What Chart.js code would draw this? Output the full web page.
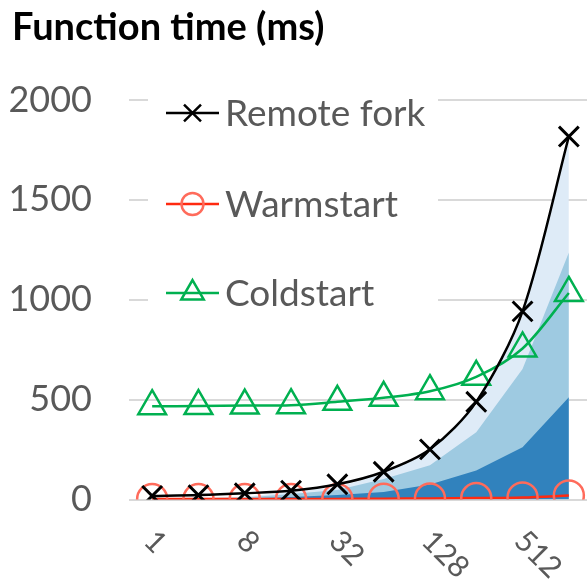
<!DOCTYPE html>
<html lang="en">

<head>
  <meta charset="UTF-8" />
  <title>Function time (ms)</title>
  <script src="https://cdn.jsdelivr.net/npm/chart.js"></script>
  <style>
    html, body { margin: 0; padding: 0; background: #fff; overflow: hidden; }
    #wrap { position: absolute; left: 0; top: 0; width: 592px; height: 583px; }
  </style>
</head>

<body>
  <div id="wrap">
    <canvas id="fnChart" width="592" height="583"></canvas>
  </div>

  <script>
    // x categories (only every other label is printed)
    const categories = ['1', '4', '8', '16', '32', '64', '128', '256', '512', '1024'];
    const yTicks = [0, 500, 1000, 1500, 2000];

    // line series (ms)
    const remoteFork = [18, 22, 31, 44, 76, 139, 251, 489, 942, 1817];
    const warmstart = [3, 3, 3, 3, 3, 4, 5, 7, 10, 20];
    const coldstart = [467, 468, 470, 472, 489, 509, 542, 614, 756, 1034];

    // background areas (top edge of each band)
    const areaDark = [2, 3, 5, 12, 22, 38, 75, 145, 262, 512];
    const areaMid = [4, 6, 10, 27, 48, 103, 172, 337, 653, 1237];
    const areaLight = [6, 9, 14, 37, 62, 128, 237, 470, 920, 1800];

    const textGrey = '#595959';
    const legendItems = [
      { text: 'Remote fork', line: '#000000', point: '#000000', style: 'crossRot', r: 12 },
      { text: 'Warmstart', line: '#ff2a10', point: '#ff6b5b', style: 'circle', r: 11 },
      { text: 'Coldstart', line: '#00b050', point: '#00b050', style: 'triangle', r: 13 }
    ];

    // title, legend box and rotated x labels
    const decor = {
      id: 'decor',
      beforeDatasetsDraw(chart) {
        const ctx = chart.ctx;
        ctx.save();
        ctx.fillStyle = '#ffffff';
        ctx.fillRect(148, 82, 290, 240);
        ctx.restore();
      },
      afterDraw(chart) {
        const ctx = chart.ctx;
        ctx.save();
        ctx.fillStyle = '#000';
        ctx.font = 'bold 38px Lato';
        ctx.textBaseline = 'alphabetic';
        ctx.textAlign = 'left';
        ctx.fillText('Function time (ms)', 12, 40);

        // legend
        const rows = [113, 204, 293];
        legendItems.forEach((it, i) => {
          const y = rows[i];
          ctx.strokeStyle = it.line;
          ctx.lineWidth = 2.5;
          ctx.beginPath();
          ctx.moveTo(166, y);
          ctx.lineTo(219, y);
          ctx.stroke();
          ctx.strokeStyle = it.point;
          ctx.fillStyle = 'rgba(0,0,0,0)';
          Chart.helpers.drawPoint(ctx, { pointStyle: it.style, radius: it.r, borderWidth: 2.5, rotation: 0 }, 192.5, y);
          ctx.fillStyle = textGrey;
          ctx.font = '37px Lato';
          ctx.textBaseline = 'middle';
          ctx.fillText(it.text, 225, y + 1);
        });

        // x tick labels, rotated clockwise
        const xs = chart.scales.x;
        ctx.font = '30px Lato';
        ctx.fillStyle = textGrey;
        ctx.textAlign = 'left';
        ctx.textBaseline = 'middle';
        categories.forEach((c, i) => {
          if (i % 2) return;
          const px = xs.getPixelForValue(i);
          ctx.save();
          ctx.translate(px - 3, 536);
          ctx.rotate(Math.PI / 4);
          ctx.fillText(c, 0, 0);
          ctx.restore();
        });
        ctx.restore();
      }
    };

    const areaSet = (data, color, order) => ({
      data: data,
      backgroundColor: color,
      borderWidth: 0,
      pointRadius: 0,
      fill: 'origin',
      tension: 0,
      order: order
    });

    new Chart(document.getElementById('fnChart'), {
      type: 'line',
      data: {
        labels: categories,
        datasets: [
          {
            label: 'Remote fork',
            data: remoteFork,
            borderColor: '#000000',
            borderWidth: 2.5,
            pointStyle: 'crossRot',
            pointRadius: 14,
            pointBorderWidth: 3,
            pointBorderColor: '#000000',
            tension: 0.3,
            fill: false,
            order: 0
          },
          {
            label: 'Warmstart',
            data: warmstart,
            borderColor: '#ff2a10',
            borderWidth: 2.5,
            pointStyle: 'circle',
            pointRadius: 15,
            pointBorderWidth: 2.5,
            pointBorderColor: '#ff6b5b',
            pointBackgroundColor: 'rgba(0,0,0,0)',
            tension: 0.3,
            fill: false,
            order: 0
          },
          {
            label: 'Coldstart',
            data: coldstart,
            borderColor: '#00b050',
            borderWidth: 2.5,
            pointStyle: 'triangle',
            pointRadius: 16,
            pointBorderWidth: 2.5,
            pointBorderColor: '#00b050',
            pointBackgroundColor: 'rgba(0,0,0,0)',
            tension: 0.3,
            fill: false,
            order: 0
          },
          areaSet(areaDark, '#3182bd', 1),
          areaSet(areaMid, '#9ecae1', 2),
          areaSet(areaLight, '#deebf7', 3)
        ]
      },
      options: {
        responsive: false,
        animation: false,
        layout: {
          autoPadding: false,
          padding: { left: 0, top: 100, right: 0, bottom: 83.5 }
        },
        plugins: {
          legend: { display: false },
          title: { display: false },
          tooltip: { enabled: false }
        },
        scales: {
          x: {
            offset: true,
            border: { display: false },
            grid: { display: false, drawTicks: false },
            ticks: { display: false }
          },
          y: {
            min: 0,
            max: 2000,
            afterFit: s => { s.width = 129; },
            afterBuildTicks: s => { s.ticks = yTicks.map(v => ({ value: v })); },
            border: { display: false },
            grid: { color: '#d9d9d9', lineWidth: 2, drawTicks: false },
            ticks: {
              padding: 37,
              color: textGrey,
              font: { family: 'Lato', size: 36 },
              callback: v => String(v)
            }
          }
        }
      },
      plugins: [decor]
    });
  </script>
</body>

</html>
